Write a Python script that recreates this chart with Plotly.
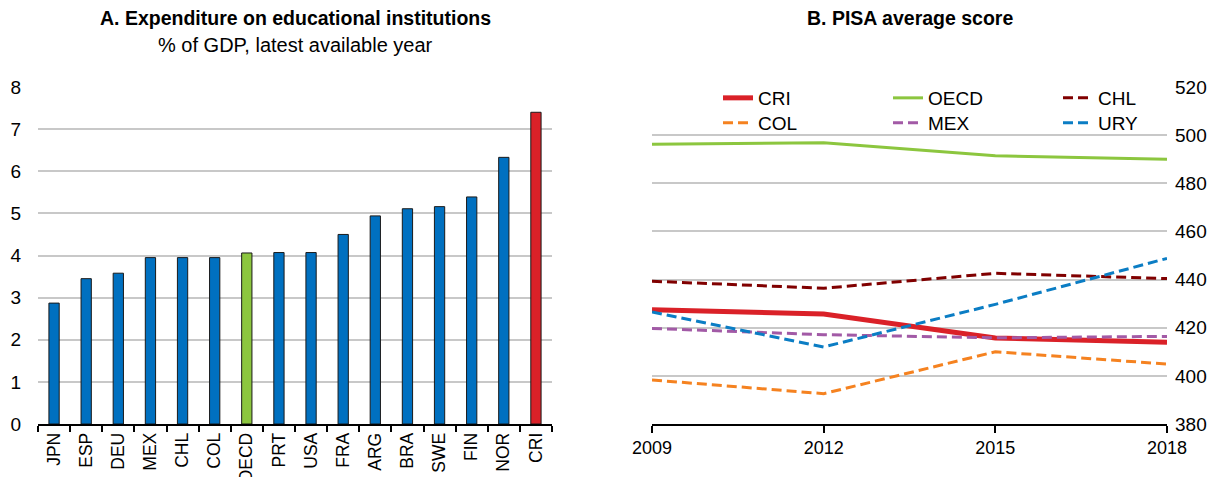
import plotly.graph_objects as go

# Panel A data
countries = ["JPN", "ESP", "DEU", "MEX", "CHL", "COL", "OECD", "PRT", "USA",
             "FRA", "ARG", "BRA", "SWE", "FIN", "NOR", "CRI"]
expenditure = [2.87, 3.45, 3.58, 3.95, 3.95, 3.95, 4.06, 4.07, 4.07,
               4.50, 4.94, 5.11, 5.16, 5.39, 6.33, 7.40]

# Panel B data
years = [2009, 2012, 2015, 2018]
pisa_cri = [427.5, 425.7, 415.7, 414.0]
pisa_oecd = [496.2, 496.8, 491.4, 490.0]
pisa_chl = [439.3, 436.4, 442.6, 440.4]
pisa_col = [398.3, 392.6, 410.0, 404.9]
pisa_mex = [419.7, 417.1, 415.8, 416.4]
pisa_ury = [426.5, 412.0, 429.7, 448.8]

BLUE = "#0070C0"
GREEN = "#8CC63F"
RED = "#DA2128"
FONT = "Liberation Sans, Arial, sans-serif"

bar_colors = [GREEN if c == "OECD" else RED if c == "CRI" else BLUE for c in countries]

fig = go.Figure()

fig.add_trace(go.Bar(
    x=countries, y=expenditure,
    marker=dict(color=bar_colors, line=dict(color="#1a1a1a", width=1)),
    width=0.32, xaxis="x", yaxis="y", showlegend=False, hoverinfo="x+y"))

series = [
    ("CRI", pisa_cri, RED, "solid", 5, "legend"),
    ("OECD", pisa_oecd, GREEN, "solid", 3, "legend"),
    ("CHL", pisa_chl, "#800000", "10px,5px", 3, "legend"),
    ("COL", pisa_col, "#F58220", "10px,5px", 3, "legend2"),
    ("MEX", pisa_mex, "#A25AA6", "10px,5px", 3, "legend2"),
    ("URY", pisa_ury, "#0B7DC4", "10px,5px", 3, "legend2"),
]
for name, vals, col, dash, w, leg in series:
    fig.add_trace(go.Scatter(
        x=years, y=vals, name=name, mode="lines",
        line=dict(color=col, dash=dash, width=w),
        xaxis="x2", yaxis="y2", legend=leg))

W, H = 1215, 477
ydom = [(H - 424) / H, (H - 87) / H]

legend_common = dict(orientation="h", xanchor="left", yanchor="top",
                     entrywidth=125, entrywidthmode="pixels", bgcolor="rgba(0,0,0,0)",
                     font=dict(size=19), traceorder="normal", tracegroupgap=0)

fig.update_layout(
    width=W, height=H,
    margin=dict(l=0, r=0, t=0, b=0, autoexpand=False),
    paper_bgcolor="white", plot_bgcolor="white",
    font=dict(family=FONT, size=18, color="black"),
    xaxis=dict(domain=[38 / W, 552 / W], anchor="y", type="category", automargin=False,
               tickangle=-90, showline=True, linecolor="black", linewidth=1.5,
               ticks="outside", tickson="boundaries", ticklen=6, tickcolor="black",
               tickwidth=1.5, showgrid=False, tickfont=dict(size=17.5)),
    yaxis=dict(domain=ydom, anchor="x", range=[0, 8], dtick=1, automargin=False,
               showgrid=True, gridcolor="#C8C8C8", gridwidth=1.5,
               zeroline=False, showline=False, ticks="",
               ticklabelstandoff=16, tickfont=dict(size=19)),
    xaxis2=dict(domain=[652 / W, 1167 / W], anchor="y2", range=[2009, 2018], automargin=False,
                tickvals=years, showline=True, linecolor="black", linewidth=1.5,
                ticks="outside", ticklen=7, tickcolor="black", tickwidth=1.5,
                showgrid=False, zeroline=False, tickfont=dict(size=18)),
    yaxis2=dict(domain=ydom, anchor="x2", side="right", range=[380, 520], dtick=20,
                automargin=False,
                showgrid=True, gridcolor="#C8C8C8", gridwidth=1.5,
                zeroline=False, showline=False, ticks="",
                ticklabelstandoff=7, tickfont=dict(size=19)),
    legend=dict(x=718 / W, y=(H - 79) / H, **legend_common),
    legend2=dict(x=718 / W, y=(H - 104) / H, **legend_common),
    annotations=[
        dict(text="<b>A. Expenditure on educational institutions</b>", x=295 / W, y=1 - 18 / H,
             xref="paper", yref="paper", showarrow=False, xanchor="center", yanchor="middle",
             font=dict(size=19.5)),
        dict(text="% of GDP, latest available year", x=295 / W, y=1 - 45 / H,
             xref="paper", yref="paper", showarrow=False, xanchor="center", yanchor="middle",
             font=dict(size=20)),
        dict(text="<b>B. PISA average score</b>", x=910 / W, y=1 - 18 / H,
             xref="paper", yref="paper", showarrow=False, xanchor="center", yanchor="middle",
             font=dict(size=19.5)),
    ],
)

fig.write_html("out.html", config={"displayModeBar": False},
               post_script="document.body.style.margin='0';")
